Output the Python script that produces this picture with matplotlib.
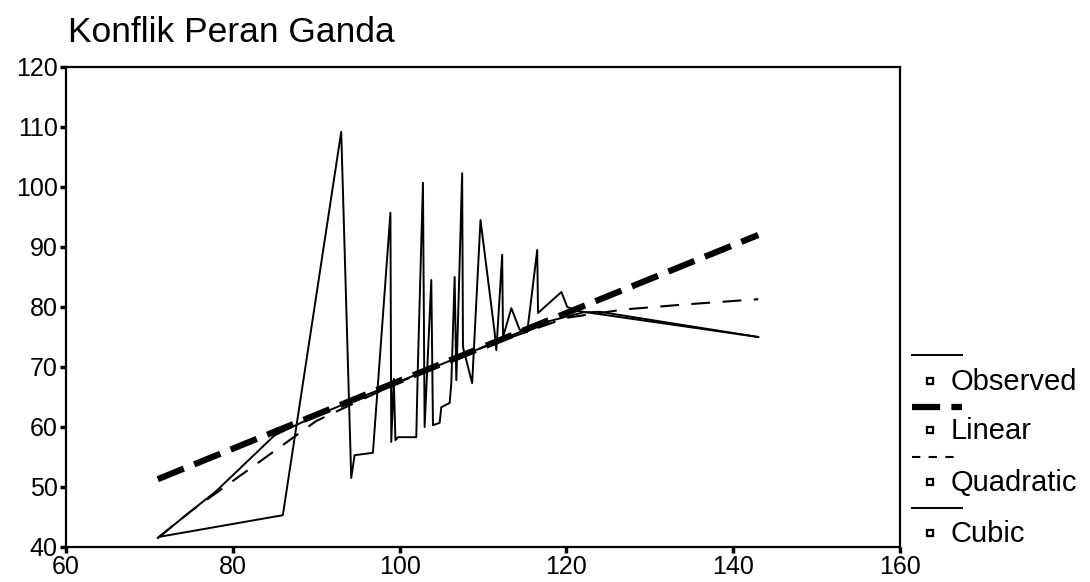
import numpy as np
import matplotlib.pyplot as plt
from matplotlib.lines import Line2D

plt.rcParams['font.family'] = ['Liberation Sans', 'DejaVu Sans']

W, H = 1090, 582

# observed series
obs_x = [71.2, 86.0, 93.0, 94.2, 94.6, 96.8, 98.9, 99.0, 99.3, 99.5, 99.8, 102.0,
         102.2, 102.8, 103.0, 103.8, 104.0, 104.8, 105.0, 106.0, 106.2, 106.6,
         106.8, 107.5, 107.6, 108.7, 109.7, 111.4, 111.6, 112.3, 112.4, 113.4,
         114.4, 115.3, 116.5, 116.6, 117.4, 119.4, 120.1, 121.5, 143.0]
obs_y = [41.7, 45.3, 109.2, 51.5, 55.3, 55.7, 95.7, 57.5, 68.0, 57.8, 58.3, 58.3,
         70.7, 100.7, 60.0, 84.5, 60.3, 60.7, 63.3, 64.0, 67.3, 85.0,
         67.8, 102.3, 73.3, 67.3, 94.5, 75.7, 72.8, 88.7, 75.0, 79.8,
         76.2, 75.8, 89.5, 79.0, 80.0, 82.5, 80.0, 79.3, 75.0]

# fitted curves
lin_x = [71, 143]
lin_y = [51.3, 92.0]
quad_x = [71, 75, 80, 85, 90, 100, 110, 120, 127, 134, 143]
quad_y = [41.5, 46.0, 51.0, 56.0, 61.0, 67.5, 73.3, 78.2, 79.6, 80.4, 81.3]
cub_x = [71, 75, 78, 85, 90, 100, 110, 117, 122, 124, 133.5, 143]
cub_y = [41.5, 46.0, 49.3, 58.6, 61.9, 67.6, 73.3, 77.3, 79.1, 79.2, 77.1, 75.0]

labels = ['Observed', 'Linear', 'Quadratic', 'Cubic']
xticks = [60, 80, 100, 120, 140, 160]
yticks = [40, 50, 60, 70, 80, 90, 100, 110, 120]

fig = plt.figure(figsize=(W / 100, H / 100), dpi=100)
ax = fig.add_axes([66 / W, 1 - 547 / H, (900 - 66) / W, (547 - 67) / H])

ax.plot(obs_x, obs_y, color='black', lw=1.4, zorder=3)
ax.plot(cub_x, cub_y, color='black', lw=1.4, zorder=2)
ax.plot(quad_x, quad_y, color='black', lw=1.5, dashes=(9, 6), zorder=2)
ax.plot(lin_x, lin_y, color='black', lw=4.5, dashes=(4.5, 1.8), zorder=4)

ax.set_xlim(60, 160)
ax.set_ylim(40, 120)
ax.set_xticks(xticks)
ax.set_yticks(yticks)
ax.tick_params(direction='out', length=4, width=2.5, labelsize=18, pad=2)
for s in ax.spines.values():
    s.set_linewidth(1.6)

fig.text(68 / W, 1 - 32 / H, 'Konflik Peran Ganda', fontsize=25.5,
         va='center', ha='left')


# legend drawn by hand, SPSS style
def fx(px):
    return px / W


def fy(py):
    return 1 - py / H


styles = [dict(lw=1.4), dict(lw=4.5, dashes=(4.5, 1.8)),
          dict(lw=1.5, dashes=(4, 4)), dict(lw=1.4)]
line_y = [355, 407, 457, 508]
text_y = [382, 431, 483, 534]
for lab, st, ly, ty in zip(labels, styles, line_y, text_y):
    fig.add_artist(Line2D([fx(912), fx(962)], [fy(ly), fy(ly)],
                          color='black', transform=fig.transFigure, **st))
    fig.add_artist(Line2D([fx(930)], [fy(ty - 1)], marker='s', ms=4,
                          mfc='white', mec='black', mew=1.6, ls='none',
                          transform=fig.transFigure))
    fig.text(fx(951), fy(ty), lab, fontsize=21, va='center', ha='left')

fig.savefig('out.png', dpi=100)
